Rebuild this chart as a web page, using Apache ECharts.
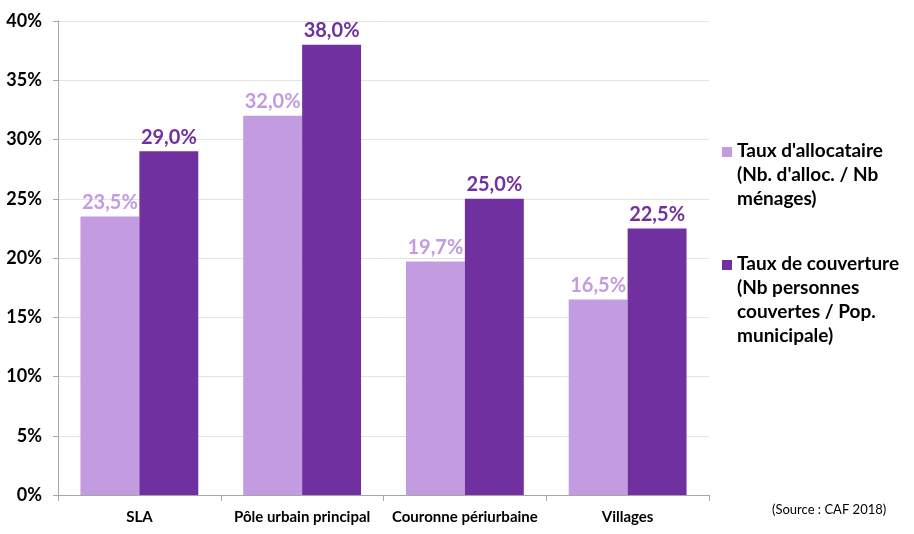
<!DOCTYPE html>
<html><head><meta charset="utf-8">
<script src="https://cdn.jsdelivr.net/npm/echarts@6/dist/echarts.min.js"></script>
<style>html,body{margin:0;padding:0;background:#fff}#c{width:914px;height:534px}</style>
</head><body><div id="c"></div>
<script>
const categories = ['SLA', 'Pôle urbain principal', 'Couronne périurbaine', 'Villages'];
const seriesNames = ["Taux d'allocataire", 'Taux de couverture'];
const allocataire = [23.5, 32.0, 19.7, 16.5];
const couverture = [29.0, 38.0, 25.0, 22.5];
const yTicks = [0, 5, 10, 15, 20, 25, 30, 35, 40];
const legendLines1 = ["Taux d'allocataire", "(Nb. d'alloc. / Nb", 'ménages)'];
const legendLines2 = ['Taux de couverture', '(Nb personnes', 'couvertes / Pop.', 'municipale)'];
const sourceText = '(Source : CAF 2018)';

const C1 = '#c39be0', C2 = '#7030a0';
const FONT = 'Lato';
const chart = echarts.init(document.getElementById('c'));
const fmt = p => p.value.toFixed(1).replace('.', ',') + '%';
chart.setOption({
  animation: false,
  textStyle: { fontFamily: FONT },
  grid: { left: 58, right: 205, top: 21, bottom: 39 },
  xAxis: {
    type: 'category', data: categories,
    axisLine: { lineStyle: { color: '#a6a6a6' } },
    axisTick: { show: true, length: 6, lineStyle: { color: '#a6a6a6' } },
    axisLabel: { color: '#000', fontWeight: 'bold', fontSize: 15, fontFamily: FONT, margin: 15, interval: 0 }
  },
  yAxis: {
    type: 'value', min: yTicks[0], max: yTicks[yTicks.length - 1], interval: 5,
    axisLine: { show: true, lineStyle: { color: '#a6a6a6' } },
    axisTick: { show: true, length: 5, lineStyle: { color: '#a6a6a6' } },
    splitLine: { lineStyle: { color: '#e3e3e3' } },
    axisLabel: { color: '#000', fontWeight: 'bold', fontSize: 18, fontFamily: FONT, margin: 16, formatter: v => v + '%' }
  },
  series: [
    { name: seriesNames[0], type: 'bar', data: allocataire, itemStyle: { color: C1 },
      barGap: '0%', barCategoryGap: '27.6%',
      label: { show: true, position: 'top', color: C1, fontWeight: 'bold', fontSize: 20, fontFamily: FONT, formatter: fmt, distance: 4 } },
    { name: seriesNames[1], type: 'bar', data: couverture, itemStyle: { color: C2 },
      barGap: '0%', barCategoryGap: '27.6%',
      label: { show: true, position: 'top', color: C2, fontWeight: 'bold', fontSize: 20, fontFamily: FONT, formatter: fmt, distance: 4 } }
  ],
  graphic: [
    { type: 'rect', left: 722, top: 147, shape: { width: 10, height: 10 }, style: { fill: C1 } },
    { type: 'text', left: 737, top: 139, style: { text: legendLines1.join('\n'), font: 'bold 19px ' + FONT, fill: '#000', lineHeight: 24 } },
    { type: 'rect', left: 722, top: 260, shape: { width: 10, height: 10 }, style: { fill: C2 } },
    { type: 'text', left: 737, top: 252, style: { text: legendLines2.join('\n'), font: 'bold 19px ' + FONT, fill: '#000', lineHeight: 24 } },
    { type: 'text', left: 772, top: 503, style: { text: sourceText, font: '13px ' + FONT, fill: '#000' } }
  ]
});
</script></body></html>
